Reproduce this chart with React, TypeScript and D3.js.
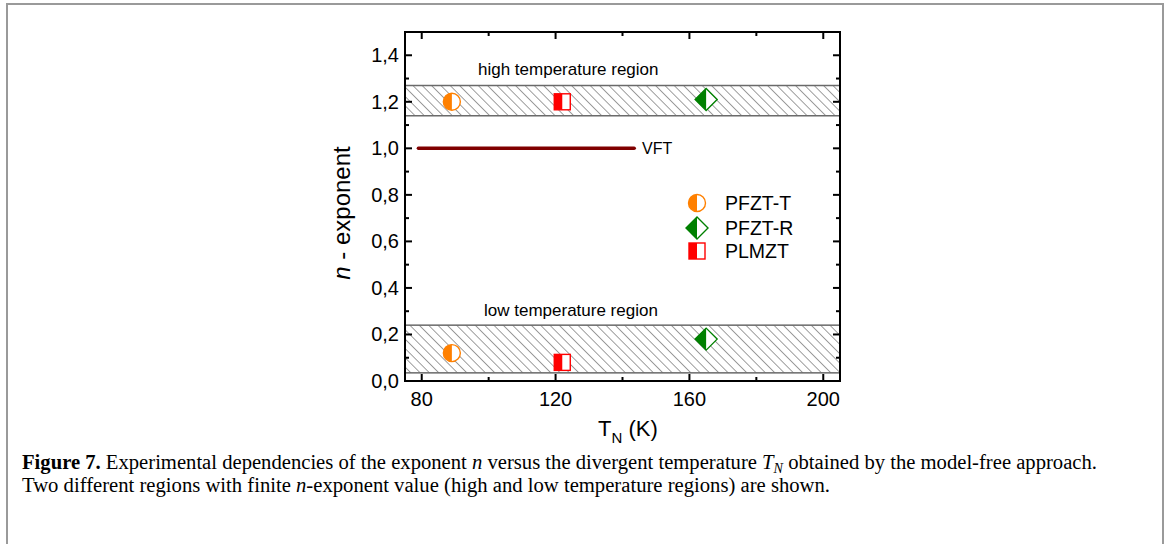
import React from 'react';
import * as d3 from 'd3';

const W = 1170;
const H = 544;

// Axis ticks
const tempTicks = [80, 120, 160, 200];
const tempMinorTicks = [100, 140, 180];
const nTicks = [0, 0.2, 0.4, 0.6, 0.8, 1.0, 1.2, 1.4];
const nMinorTicks = [0.1, 0.3, 0.5, 0.7, 0.9, 1.1, 1.3];

// Series: divergent temperature T_N (K) and exponent n (high region, low region)
const seriesNames = ['PFZT-T', 'PFZT-R', 'PLMZT'];
const seriesColors = ['#FF8000', '#008000', '#FF0000'];
const seriesShapes = ['circle', 'diamond', 'square'];
const pfztT_TN = [89, 89];
const pfztT_n = [1.2, 0.12];
const pfztR_TN = [165, 165];
const pfztR_n = [1.21, 0.18];
const plmzt_TN = [122, 122];
const plmzt_n = [1.2, 0.08];

// Temperature regions (n ranges) and the VFT reference line
const highBand = [1.14, 1.27];
const lowBand = [0.035, 0.24];
const vftTN = [79, 143.5];
const vftN = 1.0;

const xDomain = [75, 205];
const yDomain = [0, 1.5];

const commaLocale = d3.formatLocale({ decimal: ',', thousands: '.', grouping: [3], currency: ['', ''] });
const fmtN = commaLocale.format('.1f');

const AX_FONT = 'Arial, "Liberation Sans", sans-serif';
const SERIF = '"Liberation Serif", "Times New Roman", serif';

function Marker({ shape, color, cx, cy }: { shape: string; color: string; cx: number; cy: number }) {
  if (shape === 'circle') {
    const r = 8.5;
    return (
      <g>
        <circle cx={cx} cy={cy} r={r} fill="#fff" />
        <path d={`M${cx},${cy - r} A${r},${r} 0 0 0 ${cx},${cy + r} Z`} fill={color} />
        <circle cx={cx} cy={cy} r={r} fill="none" stroke={color} strokeWidth={1.4} />
      </g>
    );
  }
  if (shape === 'square') {
    const h = 8;
    return (
      <g>
        <rect x={cx - h} y={cy - h} width={2 * h} height={2 * h} fill="#fff" stroke={color} strokeWidth={1.4} />
        <rect x={cx - h} y={cy - h} width={h} height={2 * h} fill={color} />
      </g>
    );
  }
  const d = 11;
  return (
    <g>
      <path d={`M${cx},${cy - d} L${cx + d},${cy} L${cx},${cy + d} L${cx - d},${cy} Z`} fill="#fff" stroke={color} strokeWidth={1.4} strokeLinejoin="miter" />
      <path d={`M${cx},${cy - d} L${cx},${cy + d} L${cx - d},${cy} Z`} fill={color} />
    </g>
  );
}

export default function App() {
  const left = 405;
  const right = 840;
  const top = 32;
  const bottom = 381;

  const x = d3.scaleLinear().domain(xDomain).range([left, right]);
  const y = d3.scaleLinear().domain(yDomain).range([bottom, top]);

  const series = [
    { tn: pfztT_TN, n: pfztT_n },
    { tn: pfztR_TN, n: pfztR_n },
    { tn: plmzt_TN, n: plmzt_n },
  ];

  const bands = [highBand, lowBand];
  const vftLine = d3.line<number>().x((t) => x(t)).y(() => y(vftN));

  const majorLen = 7;
  const minorLen = 4;

  const legendX = 697;
  const legendY = [203, 228, 251];

  return (
    <svg width={W} height={H} style={{ position: 'absolute', left: 0, top: 0, background: '#fff' }}>
      <defs>
        <pattern id="hatch" patternUnits="userSpaceOnUse" width={6.6} height={6.6} patternTransform="rotate(-45)">
          <line x1={0} y1={0} x2={0} y2={6.6} stroke="#333" strokeWidth={0.95} />
        </pattern>
        <clipPath id="plotClip">
          <rect x={left} y={top} width={right - left} height={bottom - top} />
        </clipPath>
      </defs>

      {/* page frame */}
      <rect x={7} y={4} width={1156} height={H + 20} fill="none" stroke="#9a9a9a" strokeWidth={2} />

      {/* temperature regions */}
      <g clipPath="url(#plotClip)">
        {bands.map((b, i) => (
          <rect
            key={i}
            x={left}
            y={y(b[1])}
            width={right - left}
            height={y(b[0]) - y(b[1])}
            fill="url(#hatch)"
            stroke="#6a6a6a"
            strokeWidth={1.5}
          />
        ))}
      </g>

      {/* VFT line */}
      <path d={vftLine(vftTN) || ''} stroke="#800000" strokeWidth={3.5} strokeLinecap="round" fill="none" />
      <text x={642} y={y(vftN)} dominantBaseline="central" fontFamily={AX_FONT} fontSize={16}>VFT</text>

      <text x={478} y={75} fontFamily={AX_FONT} fontSize={17}>high temperature region</text>
      <text x={484} y={316} fontFamily={AX_FONT} fontSize={17}>low temperature region</text>

      {/* data markers */}
      {series.map((s, si) =>
        s.tn.map((t, j) => (
          <Marker key={`${si}-${j}`} shape={seriesShapes[si]} color={seriesColors[si]} cx={x(t)} cy={y(s.n[j])} />
        ))
      )}

      {/* axes frame */}
      <rect x={left} y={top} width={right - left} height={bottom - top} fill="none" stroke="#000" strokeWidth={2} />

      {/* x ticks bottom & top */}
      {tempTicks.map((t) => (
        <g key={`xt${t}`}>
          <line x1={x(t)} x2={x(t)} y1={bottom} y2={bottom - majorLen} stroke="#000" strokeWidth={2} />
          <line x1={x(t)} x2={x(t)} y1={top} y2={top + majorLen} stroke="#000" strokeWidth={2} />
          <text x={x(t)} y={399} textAnchor="middle" dominantBaseline="central" fontFamily={AX_FONT} fontSize={20}>{t}</text>
        </g>
      ))}
      {tempMinorTicks.map((t) => (
        <g key={`xm${t}`}>
          <line x1={x(t)} x2={x(t)} y1={bottom} y2={bottom - minorLen} stroke="#000" strokeWidth={2} />
          <line x1={x(t)} x2={x(t)} y1={top} y2={top + minorLen} stroke="#000" strokeWidth={2} />
        </g>
      ))}

      {/* y ticks left & right */}
      {nTicks.map((v) => (
        <g key={`yt${v}`}>
          <line x1={left} x2={left + majorLen} y1={y(v)} y2={y(v)} stroke="#000" strokeWidth={2} />
          <line x1={right} x2={right - majorLen} y1={y(v)} y2={y(v)} stroke="#000" strokeWidth={2} />
          <text x={399} y={y(v)} textAnchor="end" dominantBaseline="central" fontFamily={AX_FONT} fontSize={20}>{fmtN(v)}</text>
        </g>
      ))}
      {nMinorTicks.map((v) => (
        <g key={`ym${v}`}>
          <line x1={left} x2={left + minorLen} y1={y(v)} y2={y(v)} stroke="#000" strokeWidth={2} />
          <line x1={right} x2={right - minorLen} y1={y(v)} y2={y(v)} stroke="#000" strokeWidth={2} />
        </g>
      ))}

      {/* axis titles */}
      <text x={598} y={436} fontFamily={AX_FONT} fontSize={22}>
        T<tspan fontSize={15} dy={7}>N</tspan><tspan dy={-7}> (K)</tspan>
      </text>
      <text transform={`translate(350,213) rotate(-90)`} textAnchor="middle" fontFamily={AX_FONT} fontSize={24}>
        <tspan fontStyle="italic">n</tspan> - exponent
      </text>

      {/* legend */}
      {seriesNames.map((name, i) => (
        <g key={name}>
          <Marker shape={seriesShapes[i]} color={seriesColors[i]} cx={legendX} cy={legendY[i]} />
          <text x={725} y={legendY[i]} dominantBaseline="central" fontFamily={AX_FONT} fontSize={19.5}>{name}</text>
        </g>
      ))}

      {/* caption */}
      <text x={22} y={469} fontFamily={SERIF} fontSize={20.5} textLength={1075} lengthAdjust="spacingAndGlyphs">
        <tspan fontWeight="bold">Figure 7.</tspan> Experimental dependencies of the exponent{' '}
        <tspan fontStyle="italic">n</tspan> versus the divergent temperature{' '}
        <tspan fontStyle="italic">T</tspan><tspan fontStyle="italic" fontSize={14} dy={4}>N</tspan>
        <tspan dy={-4}> obtained by the model-free approach.</tspan>
      </text>
      <text x={22} y={492} fontFamily={SERIF} fontSize={20.5} textLength={808} lengthAdjust="spacingAndGlyphs">
        Two different regions with finite <tspan fontStyle="italic">n</tspan>-exponent value (high and low temperature regions) are shown.
      </text>
    </svg>
  );
}
